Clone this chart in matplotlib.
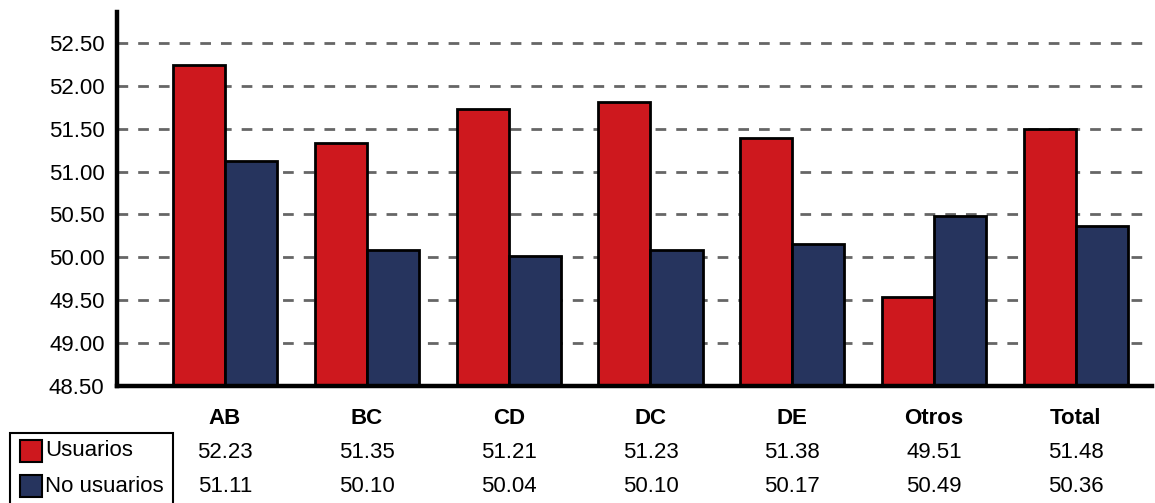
import matplotlib
matplotlib.use("Agg")
import matplotlib.pyplot as plt
from matplotlib.patches import Rectangle
from matplotlib.transforms import blended_transform_factory
import numpy as np

# ---- data ----
categories = ["AB", "BC", "CD", "DC", "DE", "Otros", "Total"]
usuarios_bars = [52.24, 51.33, 51.73, 51.81, 51.39, 49.54, 51.50]
no_usuarios_bars = [51.12, 50.09, 50.02, 50.09, 50.15, 50.48, 50.36]
usuarios_table = ["52.23", "51.35", "51.21", "51.23", "51.38", "49.51", "51.48"]
no_usuarios_table = ["51.11", "50.10", "50.04", "50.10", "50.17", "50.49", "50.36"]
series_names = ["Usuarios", "No usuarios"]
yticks = [48.5, 49.0, 49.5, 50.0, 50.5, 51.0, 51.5, 52.0, 52.5]

RED = "#CE181E"
BLUE = "#26345E"
FS = 16

plt.rcParams["font.family"] = ["Liberation Sans", "DejaVu Sans"]
plt.rcParams["lines.scale_dashes"] = False

W, H = 1155, 503
fig = plt.figure(figsize=(W / 100, H / 100), dpi=100)
ax = fig.add_axes([117 / W, 1 - 386 / H, (1152 - 117) / W, (386 - 12) / H])

x = np.arange(len(categories))
bw = 0.367
ax.bar(x - bw / 2, usuarios_bars, width=bw, color=RED, edgecolor="black",
       linewidth=2.0, zorder=3)
ax.bar(x + bw / 2, no_usuarios_bars, width=bw, color=BLUE, edgecolor="black",
       linewidth=2.0, zorder=3)

ax.set_ylim(48.5, 52.86)
ax.set_xlim(-0.7615, 6.536)
ax.set_yticks(yticks)
ax.set_yticklabels([f"{v:.2f}" for v in yticks], fontsize=FS)
ax.tick_params(axis="y", length=0, pad=9)
ax.set_xticks([])

for v in yticks[1:]:
    ax.axhline(v, color="#666666", linewidth=2.0, dashes=(7.7, 7.2), zorder=1)

for side in ["top", "right"]:
    ax.spines[side].set_visible(False)
ax.spines["left"].set_linewidth(3.2)
ax.spines["bottom"].set_linewidth(3.2)
ax.spines["left"].set_zorder(5)
ax.spines["bottom"].set_zorder(5)

# ---- data table under the chart ----
tr = blended_transform_factory(ax.transData, fig.transFigure)
for i, c in enumerate(categories):
    fig.text(i, 1 - 418 / H, c, transform=tr, ha="center", va="center",
             fontsize=FS, fontweight="bold")
    fig.text(i, 1 - 452 / H, usuarios_table[i], transform=tr, ha="center",
             va="center", fontsize=FS)
    fig.text(i, 1 - 487 / H, no_usuarios_table[i], transform=tr, ha="center",
             va="center", fontsize=FS)

# legend box
fig.patches.append(Rectangle((10 / W, -0.05), 163 / W, (503 - 433) / H + 0.05,
                             transform=fig.transFigure, facecolor="none",
                             edgecolor="black", linewidth=1.5))
for j, (name, col) in enumerate(zip(series_names, [RED, BLUE])):
    yc = 451 + j * 35
    fig.patches.append(Rectangle((20 / W, 1 - (yc + 11) / H), 22 / W, 22 / H,
                                 transform=fig.transFigure, facecolor=col,
                                 edgecolor="black", linewidth=1.5))
    fig.text(45 / W, 1 - yc / H, name, ha="left", va="center", fontsize=FS)

fig.savefig("out.png", dpi=100)
